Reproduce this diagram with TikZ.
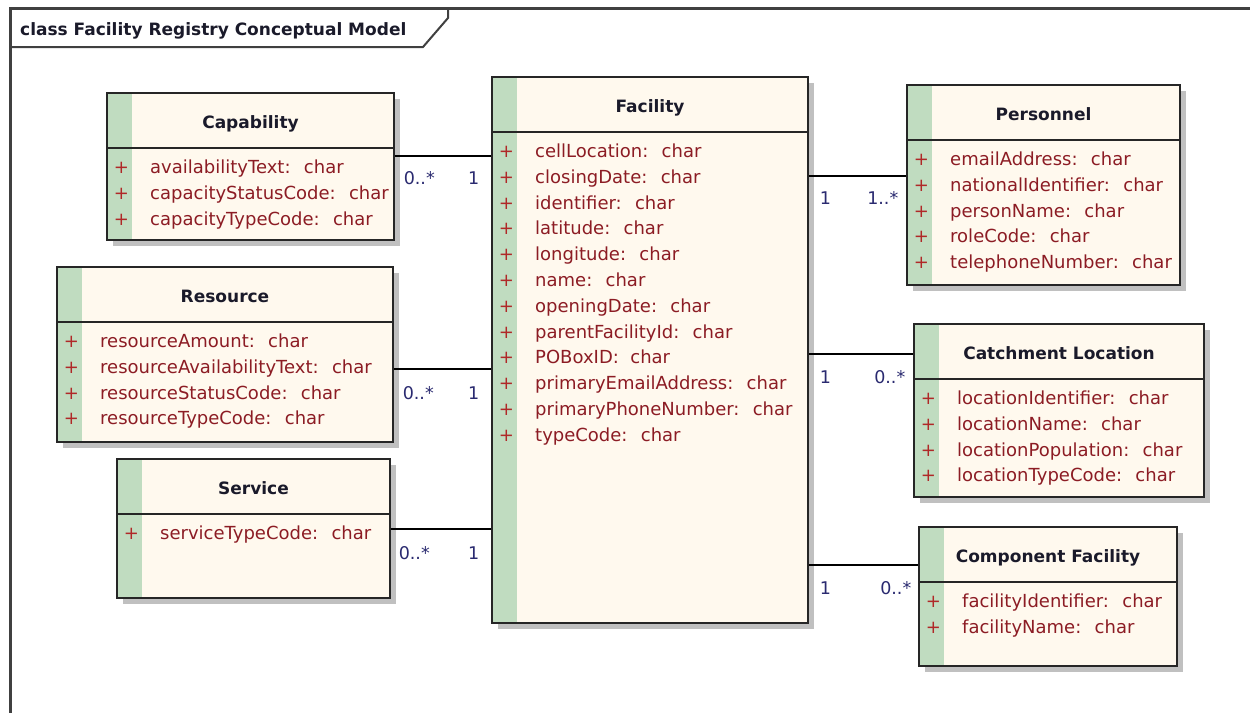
\documentclass[tikz,border=0pt]{standalone}
\usepackage{fontspec}
\setmainfont{DejaVu Sans}
\usetikzlibrary{shadows}
\definecolor{classfill}{HTML}{FFF9EE}
\definecolor{classbar}{HTML}{C0DCC0}
\definecolor{attrred}{HTML}{8C1C24}
\definecolor{plusred}{HTML}{B02828}
\definecolor{multblue}{HTML}{2A2A70}
\definecolor{titleblack}{HTML}{1A1A2A}
\definecolor{framegray}{HTML}{404040}
\definecolor{shadowgray}{HTML}{C0C0C0}
\tikzset{
  classbox/.style={draw=black!85, line width=2pt, fill=classfill, inner sep=0pt,
    drop shadow={shadow xshift=6pt, shadow yshift=-6pt, fill=shadowgray, opacity=1},
    path picture={
      \fill[classbar] (path picture bounding box.north west) rectangle ([xshift=25pt]path picture bounding box.south west);
      \draw[line width=2pt, black!85] ([yshift=-54.5pt]path picture bounding box.north west) -- ([yshift=-54.5pt]path picture bounding box.north east);
    }},
  classtitle/.style={anchor=base, inner sep=0pt, text=titleblack, font=\bfseries\fontsize{17}{20}\selectfont},
  attrplus/.style={anchor=base, inner sep=0pt, text=plusred, font=\fontsize{18}{22}\selectfont},
  attrtext/.style={anchor=base west, inner sep=0pt, text=attrred, font=\fontsize{18}{22}\selectfont},
  mult/.style={fill=white, inner xsep=3pt, inner ysep=1pt, text=multblue, font=\fontsize{17.5}{20}\selectfont},
  assoc/.style={draw=black, line width=1.5pt}
}
% attribute rows of one class
\newcommand{\classattrs}[2]{%
  \foreach \a [count=\i from 0] in {#2} {
    \node[attrplus] (#1-p\i) at ([xshift=15.5pt, yshift=-81.5pt-25.8pt*\i]#1.north west) {+};
    \node[attrtext] (#1-a\i) at ([xshift=44pt, yshift=-81.5pt-25.8pt*\i]#1.north west) {\a:~ char};
  }}
\begin{document}
\begin{tikzpicture}[x=1pt, y=-1pt]
    \useasboundingbox (0,0) rectangle (1250,712);
    % frame
    \draw[framegray, line width=3pt] (10,720) -- (10,8) -- (1260,8);
    \draw[framegray, line width=2pt] (10,47) -- (423,47) -- (448,18) -- (448,8);
    \node[anchor=base west, inner sep=0pt, text=titleblack, font=\bfseries\fontsize{17}{20}\selectfont] (frametitle) at (20,35) {class Facility Registry Conceptual Model};

    % classes
    \node[classbox, minimum width=316pt, minimum height=546pt] (fac) at (650,350) {};
    \node[classbox, minimum width=287pt, minimum height=147pt] (cap) at (250.5,166.5) {};
    \node[classbox, minimum width=336pt, minimum height=175pt] (res) at (225,354.5) {};
    \node[classbox, minimum width=273pt, minimum height=139pt] (svc) at (253.5,528.5) {};
    \node[classbox, minimum width=273pt, minimum height=200pt] (pers) at (1043.5,185) {};
    \node[classbox, minimum width=290pt, minimum height=173pt] (catch) at (1059,410.5) {};
    \node[classbox, minimum width=258pt, minimum height=139pt] (comp) at (1048,596.5) {};

    \node[classtitle] (fac-t) at ([yshift=-36.7pt]fac.north) {Facility};
    \node[classtitle] (cap-t) at ([yshift=-36.7pt]cap.north) {Capability};
    \node[classtitle] (res-t) at ([yshift=-36.7pt]res.north) {Resource};
    \node[classtitle] (svc-t) at ([yshift=-36.7pt]svc.north) {Service};
    \node[classtitle] (pers-t) at ([yshift=-36.7pt]pers.north) {Personnel};
    \node[classtitle] (catch-t) at ([yshift=-36.7pt]catch.north) {Catchment Location};
    \node[classtitle] (comp-t) at ([yshift=-36.7pt]comp.north) {Component Facility};

    \classattrs{fac}{cellLocation, closingDate, identifier, latitude, longitude, name, openingDate, parentFacilityId, POBoxID, primaryEmailAddress, primaryPhoneNumber, typeCode}
    \classattrs{cap}{availabilityText, capacityStatusCode, capacityTypeCode}
    \classattrs{res}{resourceAmount, resourceAvailabilityText, resourceStatusCode, resourceTypeCode}
    \classattrs{svc}{serviceTypeCode}
    \classattrs{pers}{emailAddress, nationalIdentifier, personName, roleCode, telephoneNumber}
    \classattrs{catch}{locationIdentifier, locationName, locationPopulation, locationTypeCode}
    \classattrs{comp}{facilityIdentifier, facilityName}

    % associations
    \coordinate (capl) at (0,156);
    \coordinate (resl) at (0,369);
    \coordinate (svcl) at (0,529);
    \coordinate (persl) at (0,176);
    \coordinate (catchl) at (0,354);
    \coordinate (compl) at (0,565);
    \draw[assoc] (cap.east |- capl) -- (fac.west |- capl)
        node[mult, at start, anchor=base west, xshift=5pt, yshift=-28pt] (cap-m1) {0..*}
        node[mult, anchor=base east, xshift=-8pt, yshift=-28pt] (cap-m2) {1};
    \draw[assoc] (res.east |- resl) -- (fac.west |- resl)
        node[mult, at start, anchor=base west, xshift=5pt, yshift=-30pt] (res-m1) {0..*}
        node[mult, anchor=base east, xshift=-8pt, yshift=-30pt] (res-m2) {1};
    \draw[assoc] (svc.east |- svcl) -- (fac.west |- svcl)
        node[mult, at start, anchor=base west, xshift=4pt, yshift=-30pt] (svc-m1) {0..*}
        node[mult, anchor=base east, xshift=-8pt, yshift=-30pt] (svc-m2) {1};
    \draw[assoc] (fac.east |- persl) -- (pers.west |- persl)
        node[mult, at start, anchor=base west, xshift=7pt, yshift=-28pt] (pers-m1) {1}
        node[mult, anchor=base east, xshift=-4pt, yshift=-28pt] (pers-m2) {1..*};
    \draw[assoc] (fac.east |- catchl) -- (catch.west |- catchl)
        node[mult, at start, anchor=base west, xshift=7pt, yshift=-29pt] (catch-m1) {1}
        node[mult, anchor=base east, xshift=-4pt, yshift=-29pt] (catch-m2) {0..*};
    \draw[assoc] (fac.east |- compl) -- (comp.west |- compl)
        node[mult, at start, anchor=base west, xshift=7pt, yshift=-29pt] (comp-m1) {1}
        node[mult, anchor=base east, xshift=-3pt, yshift=-29pt] (comp-m2) {0..*};
\end{tikzpicture}
\end{document}
